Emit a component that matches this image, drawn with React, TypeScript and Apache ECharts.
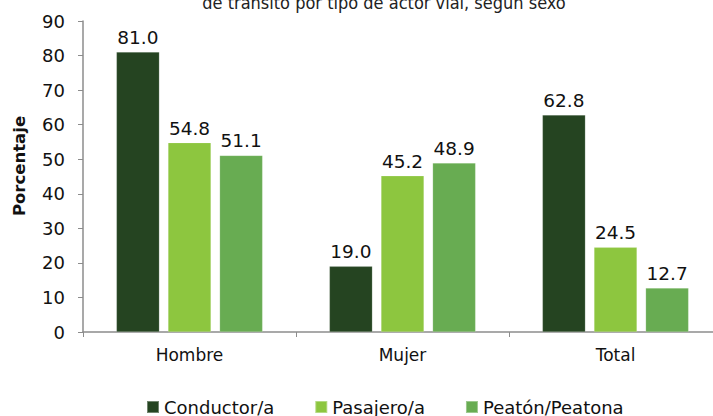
import React, { useEffect, useRef } from "react";
import * as echarts from "echarts";

const categories = ["Hombre", "Mujer", "Total"];
const conductor = [81.0, 19.0, 62.8];
const pasajero = [54.8, 45.2, 24.5];
const peaton = [51.1, 48.9, 12.7];
const seriesNames = ["Conductor/a", "Pasajero/a", "Peatón/Peatona"];
const colors = ["#254421", "#8DC63F", "#68AC52"];
const titleText = "de tránsito por tipo de actor vial, según sexo";
const yAxisTitle = "Porcentaje";

export default function App() {
  const ref = useRef<HTMLDivElement>(null);
  useEffect(() => {
    if (!ref.current) return;
    const chart = echarts.init(ref.current, undefined, { renderer: "svg" });
    const sans = "'DejaVu Sans', sans-serif";
    const cond = "'DejaVu Sans Condensed', 'DejaVu Sans', sans-serif";
    const mk = (name: string, data: number[], color: string) => ({
      name,
      type: "bar",
      data,
      barWidth: 43,
      barGap: "20%",
      itemStyle: { color, borderColor: "rgba(255,255,255,0.35)", borderWidth: 0.5 },
      label: {
        show: true,
        position: "top",
        distance: 5,
        formatter: (p: any) => p.value.toFixed(1),
        color: "#111",
        fontSize: 18.5,
        fontFamily: sans,
      },
    });
    chart.setOption({
      animation: false,
      color: colors,
      graphic: [
        {
          type: "text",
          x: 384,
          y: -7,
          style: {
            text: titleText,
            fill: "#222",
            fontSize: 18,
            fontFamily: cond,
            textAlign: "center",
          },
        },
        {
          type: "text",
          x: 19,
          y: 166,
          rotation: Math.PI / 2,
          style: {
            text: yAxisTitle,
            fill: "#111",
            fontSize: 16.5,
            fontWeight: "bold",
            fontFamily: sans,
            textAlign: "center",
            textVerticalAlign: "middle",
          },
        },
      ],
      grid: { left: 83, top: 21, width: 639, bottom: 84 },
      legend: {
        data: seriesNames,
        left: 141,
        top: 393,
        itemWidth: 12,
        itemHeight: 12,
        itemGap: 40,
        icon: "rect",
        textStyle: { fontSize: 18, color: "#111", fontFamily: sans },
      },
      xAxis: {
        type: "category",
        data: categories,
        axisLine: { lineStyle: { color: "#8c8c8c", width: 1.5 } },
        axisTick: { show: true, length: 5, lineStyle: { color: "#8c8c8c" } },
        axisLabel: { fontSize: 17, color: "#111", margin: 14, fontFamily: sans },
      },
      yAxis: {
        type: "value",
        min: 0,
        max: 90,
        interval: 10,
        axisLine: { show: true, lineStyle: { color: "#8c8c8c", width: 1.5 } },
        axisTick: { show: true, length: 5, lineStyle: { color: "#8c8c8c" } },
        splitLine: { show: false },
        axisLabel: { fontSize: 18, color: "#111", margin: 18, fontFamily: sans },
      },
      series: [
        mk(seriesNames[0], conductor, colors[0]),
        mk(seriesNames[1], pasajero, colors[1]),
        mk(seriesNames[2], peaton, colors[2]),
      ],
    });
    return () => chart.dispose();
  }, []);
  return (
    <div style={{ width: 713, height: 416, position: "absolute", left: 0, top: 0, overflow: "hidden" }}>
      <div ref={ref} style={{ width: 730, height: 416 }} />
    </div>
  );
}
